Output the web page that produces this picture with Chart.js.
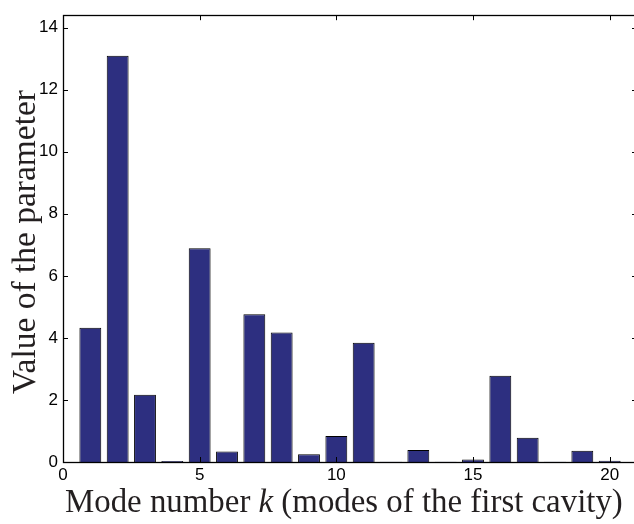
<!DOCTYPE html>
<html>
<head>
<meta charset="utf-8">
<script src="https://cdn.jsdelivr.net/npm/chart.js@4/dist/chart.umd.min.js"></script>
<style>
  html, body { margin: 0; padding: 0; background: #fff; overflow: hidden; }
  #wrap { width: 645px; height: 524px; }
</style>
</head>
<body>
<div id="wrap"><canvas id="c" width="645" height="524"></canvas></div>
<script>
// Mode numbers of the first cavity and the parameter value for each
const modes = [1, 2, 3, 4, 5, 6, 7, 8, 9, 10, 11, 12, 13, 14, 15, 16, 17, 18, 19, 20];
const values = [4.33, 13.09, 2.17, 0.03, 6.89, 0.34, 4.76, 4.17, 0.25, 0.84,
                3.84, 0.01, 0.39, 0.01, 0.08, 2.78, 0.78, 0.01, 0.36, 0.04];
const xTicks = [0, 5, 10, 15, 20];
const yTicks = [0, 2, 4, 6, 8, 10, 12, 14];

const X_MIN = 0, X_MAX = 21, Y_MIN = 0, Y_MAX = 14.4;

const tickFont = { family: "'Liberation Sans', Arial, sans-serif", size: 17 };
const titleFamily = "'Liberation Serif', 'Times New Roman', serif";

// Box frame with inward-pointing ticks on all four sides, plus serif axis titles
const boxAndTitles = {
  id: 'boxAndTitles',
  afterDatasetsDraw(chart) {
    const { ctx, chartArea: a, scales: { x, y } } = chart;
    const L = 5;
    ctx.save();
    ctx.strokeStyle = '#000';
    ctx.lineWidth = 1;
    ctx.beginPath();
    xTicks.forEach(v => {
      const px = Math.round(x.getPixelForValue(v)) + 0.5;
      ctx.moveTo(px, a.bottom); ctx.lineTo(px, a.bottom - L);
      ctx.moveTo(px, a.top); ctx.lineTo(px, a.top + L);
    });
    yTicks.forEach(v => {
      const py = Math.round(y.getPixelForValue(v)) + 0.5;
      ctx.moveTo(a.left, py); ctx.lineTo(a.left + L, py);
      ctx.moveTo(a.right, py); ctx.lineTo(a.right - L, py);
    });
    ctx.stroke();
    ctx.lineWidth = 1.3;
    ctx.strokeRect(Math.round(a.left) + 0.5, Math.round(a.top) + 0.5,
                   Math.round(a.right - a.left), Math.round(a.bottom - a.top));

    ctx.fillStyle = '#231f20';
    ctx.textBaseline = 'alphabetic';

    // x-axis title with an italic k, sized to its span
    const parts = [
      { t: 'Mode number ', it: false },
      { t: 'k', it: true },
      { t: ' (modes of the first cavity)', it: false }
    ];
    const targetW = 558;
    const fontFor = (it, s) => (it ? 'italic ' : '') + s + 'px ' + titleFamily;
    let w = 0;
    parts.forEach(p => { ctx.font = fontFor(p.it, 100); w += ctx.measureText(p.t).width; });
    const xs = 100 * targetW / w;
    let cx = 344 - targetW / 2;
    parts.forEach(p => {
      ctx.font = fontFor(p.it, xs);
      ctx.textAlign = 'left';
      ctx.fillText(p.t, cx, 512);
      cx += ctx.measureText(p.t).width;
    });

    // y-axis title, rotated
    const yt = 'Value of the parameter';
    ctx.font = fontFor(false, 100);
    const ys = 100 * 304 / ctx.measureText(yt).width;
    ctx.font = fontFor(false, ys);
    ctx.translate(35, 242);
    ctx.rotate(-Math.PI / 2);
    ctx.textAlign = 'center';
    ctx.fillText(yt, 0, 0);
    ctx.restore();
  }
};

new Chart(document.getElementById('c'), {
  type: 'bar',
  data: {
    datasets: [{
      data: modes.map((m, i) => ({ x: m, y: values[i] })),
      backgroundColor: '#2d2f80',
      borderColor: '#000',
      borderWidth: 1,
      barPercentage: 0.8,
      categoryPercentage: 1.0
    }]
  },
  options: {
    responsive: false,
    animation: false,
    devicePixelRatio: 1,
    layout: { padding: { top: 10, right: 8, bottom: 0, left: 0 } },
    plugins: { legend: { display: false }, tooltip: { enabled: false } },
    scales: {
      x: {
        type: 'linear',
        offset: false,
        min: X_MIN, max: X_MAX,
        afterBuildTicks: s => { s.ticks = xTicks.map(v => ({ value: v })); },
        ticks: { font: tickFont, color: '#000', padding: 3, maxRotation: 0 },
        grid: { display: false, drawTicks: false, offset: false },
        border: { display: false },
        afterFit: s => { s.height = 524 - 462; }
      },
      y: {
        min: Y_MIN, max: Y_MAX,
        afterBuildTicks: s => { s.ticks = yTicks.map(v => ({ value: v })); },
        ticks: { font: tickFont, color: '#000', padding: 5 },
        grid: { display: false, drawTicks: false },
        border: { display: false },
        afterFit: s => { s.width = 63; }
      }
    }
  },
  plugins: [boxAndTitles]
});
</script>
</body>
</html>
